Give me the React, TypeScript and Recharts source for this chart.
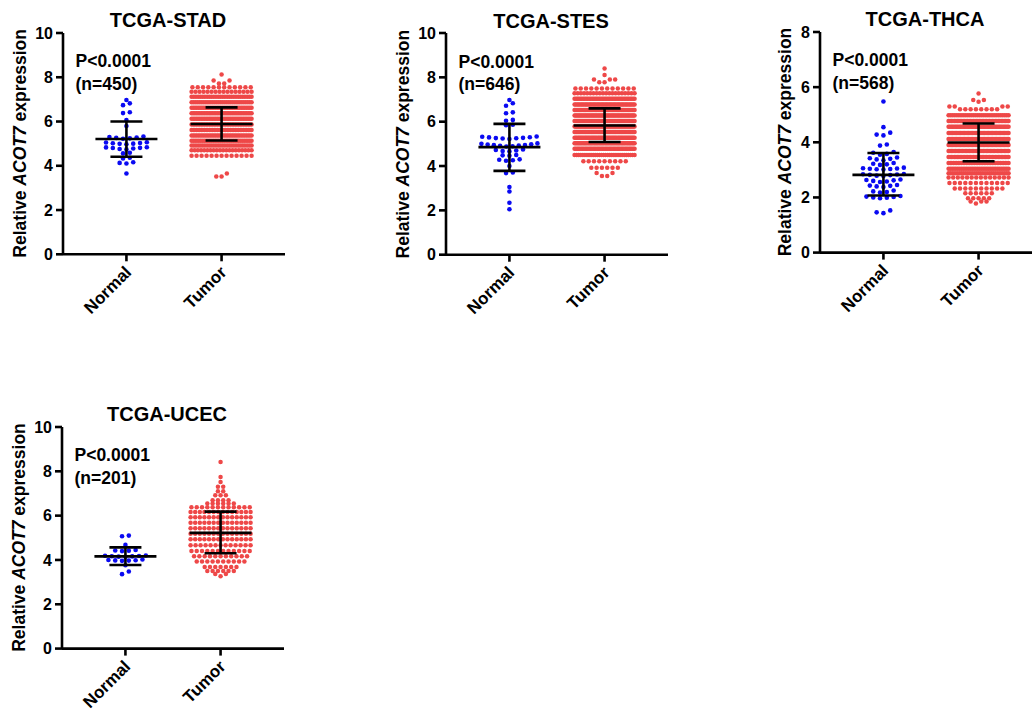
import React from "react";
import { ScatterChart, Scatter, XAxis, YAxis } from "recharts";

// ---------------- DATA ----------------
const categories = ["Normal", "Tumor"];
const panelTitles = ["TCGA-STAD", "TCGA-STES", "TCGA-THCA", "TCGA-UCEC"];
const pValueLabels = ["P<0.0001", "P<0.0001", "P<0.0001", "P<0.0001"];
const sampleLabels = ["(n=450)", "(n=646)", "(n=568)", "(n=201)"];
const yTicks10 = [0, 2, 4, 6, 8, 10];
const yTicks8 = [0, 2, 4, 6, 8];

// Normal samples (individual values)
const stadNormal = [
  3.65, 4.10, 4.13, 4.16, 4.33, 4.36, 4.56, 4.59,
  4.74, 4.76, 4.78, 4.80, 4.81, 4.83, 4.84,
  4.97, 4.99, 5.00, 5.02, 5.03, 5.05, 5.06,
  5.22, 5.24, 5.26, 5.28, 5.30, 5.32,
  5.80, 6.07, 6.38, 6.42, 6.74, 6.82, 6.97,
];
const stesNormal = [
  2.05, 2.34, 2.85, 3.05, 3.68, 3.71, 4.00,
  4.24, 4.26, 4.28, 4.30, 4.46, 4.48, 4.50,
  4.66, 4.68, 4.70, 4.72, 4.75,
  4.88, 4.89, 4.91, 4.92, 4.94, 4.95, 4.97, 4.98, 5.00, 5.02,
  5.22, 5.24, 5.25, 5.26, 5.27, 5.29, 5.30, 5.32, 5.33,
  5.84, 5.86, 6.04, 6.08, 6.38, 6.42, 6.72, 6.83, 6.98,
];
const thcaNormal = [
  1.43, 1.46, 1.53,
  1.97, 1.99, 2.00, 2.02, 2.03, 2.05,
  2.18, 2.20, 2.22, 2.25,
  2.38, 2.40, 2.42, 2.43, 2.45,
  2.56, 2.58, 2.60, 2.62, 2.63, 2.65,
  2.78, 2.79, 2.81, 2.82, 2.83, 2.84, 2.85,
  3.01, 3.02, 3.03, 3.04, 3.05, 3.06, 3.08,
  3.18, 3.20, 3.22, 3.25,
  3.35, 3.38, 3.40, 3.42, 3.45,
  3.55, 3.58, 3.62, 3.65,
  3.88, 3.92, 4.25, 4.28, 4.35, 4.55, 5.48,
];
const ucecNormal = [
  3.36, 3.48, 3.76,
  3.96, 3.97, 3.98, 3.99, 4.00, 4.02,
  4.14, 4.15, 4.16, 4.17, 4.18, 4.19, 4.20,
  4.40, 4.42, 4.43, 4.45, 4.68, 5.07, 5.10,
];

// Tumor samples, read as swarm rows: [value, number of dots in the row]
const stadTumorRows = [
  [3.52, 2], [3.65, 1], [4.45, 13], [4.70, 20], [4.92, 28], [5.13, 34], [5.37, 36],
  [5.62, 38], [5.87, 38], [6.12, 38], [6.37, 38], [6.62, 36], [6.87, 32], [7.12, 28],
  [7.35, 16], [7.55, 12], [7.72, 2], [7.85, 2], [8.13, 1],
];
const stesTumorRows = [
  [3.55, 2], [3.68, 2], [3.92, 6], [4.22, 9], [4.50, 30], [4.78, 46], [5.03, 50],
  [5.28, 52], [5.53, 57], [5.78, 58], [6.03, 58], [6.28, 52], [6.53, 50], [6.78, 46],
  [7.03, 42], [7.28, 20], [7.50, 12], [7.78, 2], [7.90, 3], [8.10, 1], [8.40, 1],
];
const thcaTumorRows = [
  [1.78, 1], [1.85, 3], [1.97, 5], [2.15, 6], [2.32, 10], [2.52, 12], [2.72, 14],
  [2.88, 29], [3.04, 34], [3.25, 38], [3.47, 42], [3.68, 44], [3.90, 46], [4.12, 46],
  [4.34, 46], [4.56, 46], [4.77, 42], [4.98, 30], [5.20, 8], [5.30, 4], [5.47, 1],
  [5.53, 2], [5.77, 1],
];
const ucecTumorRows = [
  [3.26, 1], [3.37, 2], [3.50, 6], [3.68, 7], [3.93, 10], [4.17, 11], [4.40, 12],
  [4.66, 13], [4.93, 14], [5.18, 14], [5.43, 14], [5.68, 14], [5.93, 14], [6.16, 14],
  [6.38, 12], [6.55, 6], [6.70, 4], [6.92, 3], [7.10, 2], [7.30, 2], [7.52, 1],
  [7.74, 1], [8.42, 1],
];

// Mean and SD bars: [mean, lower, upper]
const stadNormalBar = [5.21, 4.41, 6.0];
const stadTumorBar = [5.89, 5.14, 6.64];
const stesNormalBar = [4.85, 3.78, 5.9];
const stesTumorBar = [5.83, 5.08, 6.6];
const thcaNormalBar = [2.82, 2.07, 3.61];
const thcaTumorBar = [3.99, 3.31, 4.68];
const ucecNormalBar = [4.16, 3.77, 4.57];
const ucecTumorBar = [5.22, 4.3, 6.18];

// ---------------- LAYOUT ----------------
const FONT = "Arial, 'Liberation Sans', Helvetica, sans-serif";
const BLUE = "#0a0af2";
const RED = "#ee4848";
const X_MIN = 1 / 3;
const X_MAX = 8 / 3;
const PLOT_W = 222;
const PX_PER_X = PLOT_W / (X_MAX - X_MIN);
const Y_AXIS_W = 60;
const TOP_M = 30;
const X_AXIS_H = 70;
const RIGHT_M = 10;

const layouts = [
  { axisX: 63, plotTop: 32.7, plotH: 221.3, yMax: 10, labelOff: 37 },
  { axisX: 446, plotTop: 33.3, plotH: 221.7, yMax: 10, labelOff: 37 },
  { axisX: 820, plotTop: 31.7, plotH: 220.6, yMax: 8, labelOff: 29 },
  { axisX: 62, plotTop: 426.7, plotH: 221.6, yMax: 10, labelOff: 37 },
];

function expandRows(rows: number[][]): number[] {
  const out: number[] = [];
  rows.forEach(([v, c]) => {
    for (let i = 0; i < c; i++) out.push(v);
  });
  return out;
}

function swarm(
  values: number[],
  center: number,
  pxPerY: number,
  binPx: number,
  spacing: number,
  maxHalf: number
) {
  const sorted = [...values].sort((a, b) => a - b);
  const rows: number[][] = [];
  let cur: number[] = [];
  let start = -Infinity;
  sorted.forEach((v) => {
    if (cur.length && (v - start) * pxPerY < binPx) cur.push(v);
    else {
      if (cur.length) rows.push(cur);
      cur = [v];
      start = v;
    }
  });
  if (cur.length) rows.push(cur);
  const pts: { x: number; y: number }[] = [];
  rows.forEach((row) => {
    const n = row.length;
    const s = n > 1 ? Math.min(spacing, (2 * maxHalf) / (n - 1)) : 0;
    const slots = Array.from({ length: n }, (_, i) => (i - (n - 1) / 2) * s);
    slots.sort((a, b) => Math.abs(a) - Math.abs(b) || a - b);
    row.forEach((v, i) => pts.push({ x: center + slots[i] / PX_PER_X, y: v }));
  });
  return pts;
}

const makeDot = (color: string, r: number) => (p: any) =>
  <circle cx={p.cx} cy={p.cy} r={r} fill={color} />;

const MeanShape = (p: any) => (
  <line x1={p.cx - 31} x2={p.cx + 31} y1={p.cy} y2={p.cy} stroke="#000" strokeWidth={2.6} />
);
const CapShape = (p: any) => (
  <line x1={p.cx - 16} x2={p.cx + 16} y1={p.cy} y2={p.cy} stroke="#000" strokeWidth={2.6} />
);

const XTick = (p: any) => {
  const label = categories[Math.round(p.payload.value) - 1];
  const tx = p.x + 6;
  const ty = p.y + 10;
  return (
    <text
      x={tx}
      y={ty}
      textAnchor="end"
      transform={`rotate(-45 ${tx} ${ty})`}
      fontFamily={FONT}
      fontWeight={700}
      fontSize={17}
      fill="#000"
    >
      {label}
    </text>
  );
};

type PanelProps = {
  idx: number;
  normal: number[];
  tumorRows: number[][];
  normalBar: number[];
  tumorBar: number[];
  yTicks: number[];
};

function Panel({ idx, normal, tumorRows, normalBar, tumorBar, yTicks }: PanelProps) {
  const L = layouts[idx];
  const pxPerY = L.plotH / L.yMax;
  const normalPts = swarm(normal, 1, pxPerY, 3.5, 6.8, 28);
  const tumorPts = swarm(expandRows(tumorRows), 2, pxPerY, 3.2, 5.3, 30);
  const width = Y_AXIS_W + PLOT_W + RIGHT_M;
  const height = TOP_M + L.plotH + X_AXIS_H;
  const bars = [
    { c: 1, b: normalBar },
    { c: 2, b: tumorBar },
  ];
  return (
    <div style={{ position: "absolute", left: L.axisX - Y_AXIS_W, top: L.plotTop - TOP_M }}>
      <ScatterChart
        width={width}
        height={height}
        margin={{ top: TOP_M, right: RIGHT_M, bottom: 0, left: 0 }}
      >
        <XAxis
          dataKey="x"
          type="number"
          domain={[X_MIN, X_MAX]}
          allowDataOverflow
          ticks={[1, 2]}
          interval={0}
          height={X_AXIS_H}
          axisLine={{ stroke: "#000", strokeWidth: 2.6 }}
          tickLine={{ stroke: "#000", strokeWidth: 2.6 }}
          tickSize={7}
          tick={<XTick />}
        />
        <YAxis
          dataKey="y"
          type="number"
          domain={[0, L.yMax]}
          allowDataOverflow
          ticks={yTicks}
          interval={0}
          width={Y_AXIS_W}
          axisLine={{ stroke: "#000", strokeWidth: 2.6 }}
          tickLine={{ stroke: "#000", strokeWidth: 2.6 }}
          tickSize={7}
          tickMargin={3}
          tick={{ fill: "#000", fontSize: 16, fontWeight: 700, fontFamily: FONT }}
        />
        <Scatter data={normalPts} shape={makeDot(BLUE, 2.3)} isAnimationActive={false} />
        <Scatter data={tumorPts} shape={makeDot(RED, 2.25)} isAnimationActive={false} />
        {bars.map(({ c, b }) => (
          <Scatter
            key={"m" + c}
            data={[{ x: c, y: b[0] }]}
            shape={MeanShape}
            isAnimationActive={false}
          />
        ))}
        {bars.map(({ c, b }) => (
          <Scatter
            key={"s" + c}
            data={[
              { x: c, y: b[2] },
              { x: c, y: b[1] },
            ]}
            line={{ stroke: "#000", strokeWidth: 2.6 }}
            shape={CapShape}
            isAnimationActive={false}
          />
        ))}
      </ScatterChart>
    </div>
  );
}

function Labels() {
  return (
    <svg
      width={1032}
      height={714}
      style={{ position: "absolute", left: 0, top: 0, pointerEvents: "none" }}
    >
      {layouts.map((L, i) => {
        const cy = L.plotTop + L.plotH / 2;
        const lx = L.axisX - L.labelOff;
        return (
          <g key={i} fontFamily={FONT} fontWeight={700} fill="#000">
            <text x={L.axisX + 105} y={L.plotTop - 5.5} textAnchor="middle" fontSize={20}>
              {panelTitles[i]}
            </text>
            <text x={L.axisX + 12.5} y={L.plotTop + 34.5} fontSize={17.5}>
              {pValueLabels[i]}
            </text>
            <text x={L.axisX + 12.5} y={L.plotTop + 57} fontSize={17.5}>
              {sampleLabels[i]}
            </text>
            <text
              x={lx}
              y={cy}
              textAnchor="middle"
              fontSize={17.5}
              transform={`rotate(-90 ${lx} ${cy})`}
            >
              <tspan>Relative </tspan>
              <tspan fontStyle="italic">ACOT7</tspan>
              <tspan> expression</tspan>
            </text>
          </g>
        );
      })}
    </svg>
  );
}

export default function App() {
  return (
    <div
      style={{
        position: "absolute",
        left: 0,
        top: 0,
        width: 1032,
        height: 714,
        overflow: "hidden",
        background: "#fff",
      }}
    >
      <Panel idx={0} normal={stadNormal} tumorRows={stadTumorRows} normalBar={stadNormalBar} tumorBar={stadTumorBar} yTicks={yTicks10} />
      <Panel idx={1} normal={stesNormal} tumorRows={stesTumorRows} normalBar={stesNormalBar} tumorBar={stesTumorBar} yTicks={yTicks10} />
      <Panel idx={2} normal={thcaNormal} tumorRows={thcaTumorRows} normalBar={thcaNormalBar} tumorBar={thcaTumorBar} yTicks={yTicks8} />
      <Panel idx={3} normal={ucecNormal} tumorRows={ucecTumorRows} normalBar={ucecNormalBar} tumorBar={ucecTumorBar} yTicks={yTicks10} />
      <Labels />
    </div>
  );
}
